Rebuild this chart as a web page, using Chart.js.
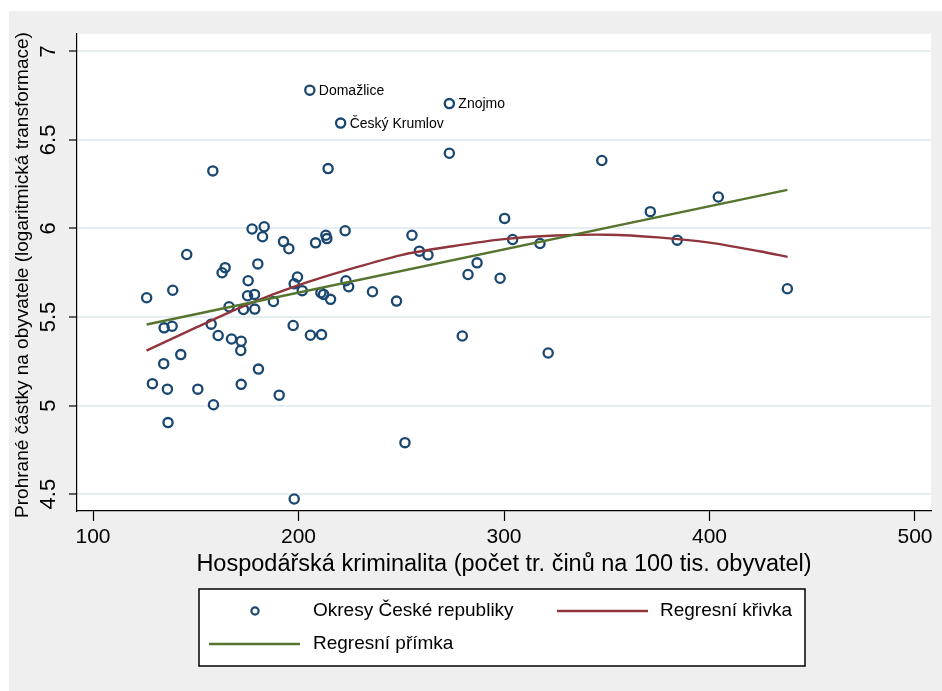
<!DOCTYPE html>
<html>
<head>
<meta charset="utf-8">
<script src="https://cdn.jsdelivr.net/npm/chart.js@4/dist/chart.umd.min.js"></script>
<style>
    html, body { margin: 0; padding: 0; background: #fff; }
    #wrap { width: 942px; height: 691px; }
</style>
</head>
<body>
<div id="wrap"><canvas id="chart" width="942" height="691"></canvas></div>

<script>
    // okresy: kriminalita (x) a prohrané částky (y); první tři jsou popsané
    const districtX = [205.5, 273.4, 220.5,
        158.3, 177.4, 183.3, 182.5, 192.7, 195.3, 145.6, 180.2, 164.3, 162.8,
        175.5, 138.8, 175.2, 178.6, 126.1, 187.8, 166.2, 173.2, 178.7, 134.6,
        138.5, 157.5, 197.4, 160.9, 167.4, 172.1, 171.9, 142.7, 134.4, 180.5,
        128.9, 136.2, 151.0, 172.1, 190.6, 158.6, 136.5, 197.9,
        273.4, 214.4, 300.3, 222.7, 255.2, 208.3, 213.3, 213.8, 304.2, 317.5,
        258.8, 263.0, 286.9, 282.5, 298.1, 199.5, 197.9, 201.8, 223.1, 224.4,
        210.9, 212.2, 215.6, 236.0, 247.7, 205.8, 211.2, 279.7, 321.5, 251.8,
        347.6, 371.2, 404.3, 384.3, 437.9];
    const districtY = [6.781, 6.705, 6.595,
        6.325, 5.997, 6.010, 5.953, 5.926, 5.886, 5.853, 5.800, 5.779, 5.750,
        5.705, 5.651, 5.620, 5.628, 5.609, 5.588, 5.558, 5.543, 5.545, 5.439,
        5.448, 5.460, 5.452, 5.396, 5.376, 5.363, 5.311, 5.288, 5.237, 5.206,
        5.124, 5.093, 5.093, 5.120, 5.059, 5.005, 4.904, 4.473,
        6.425, 6.338, 6.057, 5.987, 5.962, 5.919, 5.962, 5.943, 5.938, 5.915,
        5.872, 5.851, 5.806, 5.740, 5.719, 5.726, 5.688, 5.649, 5.705, 5.671,
        5.637, 5.628, 5.600, 5.643, 5.590, 5.397, 5.401, 5.393, 5.297, 4.791,
        6.384, 6.095, 6.178, 5.934, 5.660];
    const labelNames = ['Domažlice', 'Znojmo', 'Český Krumlov'];

    // regresní křivka
    const curveX = [126, 150, 175, 200, 225, 250, 275, 300, 325, 350, 375, 400, 425, 438];
    const curveY = [5.31, 5.44, 5.57, 5.68, 5.77, 5.85, 5.90, 5.94, 5.96, 5.965, 5.95, 5.92, 5.87, 5.84];

    // regresní přímka
    const lineX = [126.1, 437.9];
    const lineY = [5.458, 6.218];

    const xTicks = [100, 200, 300, 400, 500];
    const yTicks = [4.5, 5, 5.5, 6, 6.5, 7];

    const FONT = "'Liberation Sans', Arial, sans-serif";
    const NAVY = '#1a476f';
    const MAROON = '#90353b';
    const GREEN = '#55752f';

    const zip = (xs, ys) => xs.map((x, i) => ({ x: x, y: ys[i] }));

    // pozadí, popisky os, popisky bodů a legenda
    const decor = {
        id: 'decor',
        beforeDraw(chart) {
            const ctx = chart.ctx;
            const a = chart.chartArea;
            ctx.save();
            ctx.fillStyle = '#ffffff';
            ctx.fillRect(0, 0, chart.width, chart.height);
            ctx.fillStyle = '#efefef';
            ctx.fillRect(9, 11, chart.width - 9, chart.height - 11);
            ctx.fillStyle = '#ffffff';
            ctx.fillRect(a.left, a.top, a.right - a.left, a.bottom - a.top);
            ctx.restore();
        },
        afterDatasetsDraw(chart) {
            const ctx = chart.ctx;
            const meta = chart.getDatasetMeta(0);
            ctx.save();
            ctx.fillStyle = '#000';
            ctx.font = '14px ' + FONT;
            ctx.textAlign = 'left';
            ctx.textBaseline = 'middle';
            labelNames.forEach((name, i) => {
                const p = meta.data[i];
                ctx.fillText(name, p.x + 9, p.y + 1);
            });
            ctx.restore();
        },
        afterDraw(chart) {
            const ctx = chart.ctx;
            const ys = chart.scales.y;
            ctx.save();
            ctx.fillStyle = '#000';

            // popisky osy y (otočené)
            ctx.font = '22px ' + FONT;
            ctx.textAlign = 'center';
            ctx.textBaseline = 'middle';
            yTicks.forEach(v => {
                ctx.save();
                ctx.translate(49, ys.getPixelForValue(v));
                ctx.rotate(-Math.PI / 2);
                ctx.fillText(String(v), 0, 0);
                ctx.restore();
            });

            // název osy y
            ctx.save();
            ctx.translate(23, 275);
            ctx.rotate(-Math.PI / 2);
            ctx.font = '19px ' + FONT;
            ctx.fillText('Prohrané částky na obyvatele (logaritmická transformace)', 0, 0);
            ctx.restore();

            // název osy x
            ctx.font = '23.5px ' + FONT;
            ctx.fillText('Hospodářská kriminalita (počet tr. činů na 100 tis. obyvatel)', 504, 565);

            // legenda
            ctx.fillStyle = '#ffffff';
            ctx.fillRect(199, 589, 606, 77);
            ctx.strokeStyle = '#000';
            ctx.lineWidth = 1.5;
            ctx.strokeRect(199, 589, 606, 77);

            ctx.beginPath();
            ctx.arc(255, 611, 3.6, 0, Math.PI * 2);
            ctx.strokeStyle = NAVY;
            ctx.lineWidth = 2.2;
            ctx.stroke();

            ctx.lineWidth = 2.4;
            ctx.strokeStyle = MAROON;
            ctx.beginPath(); ctx.moveTo(557, 611); ctx.lineTo(648, 611); ctx.stroke();
            ctx.strokeStyle = GREEN;
            ctx.beginPath(); ctx.moveTo(209, 644); ctx.lineTo(300, 644); ctx.stroke();

            ctx.fillStyle = '#000';
            ctx.font = '19px ' + FONT;
            ctx.textAlign = 'left';
            ctx.fillText('Okresy České republiky', 313, 611);
            ctx.fillText('Regresní křivka', 660, 611);
            ctx.fillText('Regresní přímka', 313, 644);
            ctx.restore();
        }
    };

    new Chart(document.getElementById('chart'), {
        type: 'scatter',
        data: {
            datasets: [{
                label: 'Okresy České republiky',
                data: zip(districtX, districtY),
                pointStyle: 'circle',
                pointRadius: 4.6,
                borderWidth: 2.3,
                borderColor: NAVY,
                backgroundColor: 'rgba(0,0,0,0)',
                order: 3
            }, {
                label: 'Regresní křivka',
                data: zip(curveX, curveY),
                showLine: true,
                pointRadius: 0,
                borderWidth: 2.4,
                borderColor: MAROON,
                tension: 0.3,
                order: 2
            }, {
                label: 'Regresní přímka',
                data: zip(lineX, lineY),
                showLine: true,
                pointRadius: 0,
                borderWidth: 2.4,
                borderColor: GREEN,
                order: 1
            }]
        },
        options: {
            responsive: false,
            animation: false,
            layout: { padding: { top: 34, right: 11, left: 0, bottom: 0 } },
            plugins: {
                legend: { display: false },
                tooltip: { enabled: false }
            },
            scales: {
                x: {
                    type: 'linear',
                    min: 92.2,
                    max: 507.8,
                    afterBuildTicks: s => { s.ticks = xTicks.map(v => ({ value: v })); },
                    afterFit: s => { s.height = 180; },
                    grid: { drawOnChartArea: false, tickLength: 10, tickColor: '#000', tickWidth: 1.2 },
                    border: { color: '#000', width: 1.2 },
                    ticks: { color: '#000', font: { family: FONT, size: 21 }, padding: 4, maxRotation: 0, autoSkip: false }
                },
                y: {
                    type: 'linear',
                    min: 4.405,
                    max: 7.098,
                    afterBuildTicks: s => { s.ticks = yTicks.map(v => ({ value: v })); },
                    afterFit: s => { s.width = 77; },
                    grid: { color: '#e6eef1', lineWidth: 2, tickLength: 8, tickColor: '#000', tickWidth: 1.2 },
                    border: { color: '#000', width: 1.2 },
                    ticks: { display: false }
                }
            }
        },
        plugins: [decor]
    });
</script>
</body>
</html>
